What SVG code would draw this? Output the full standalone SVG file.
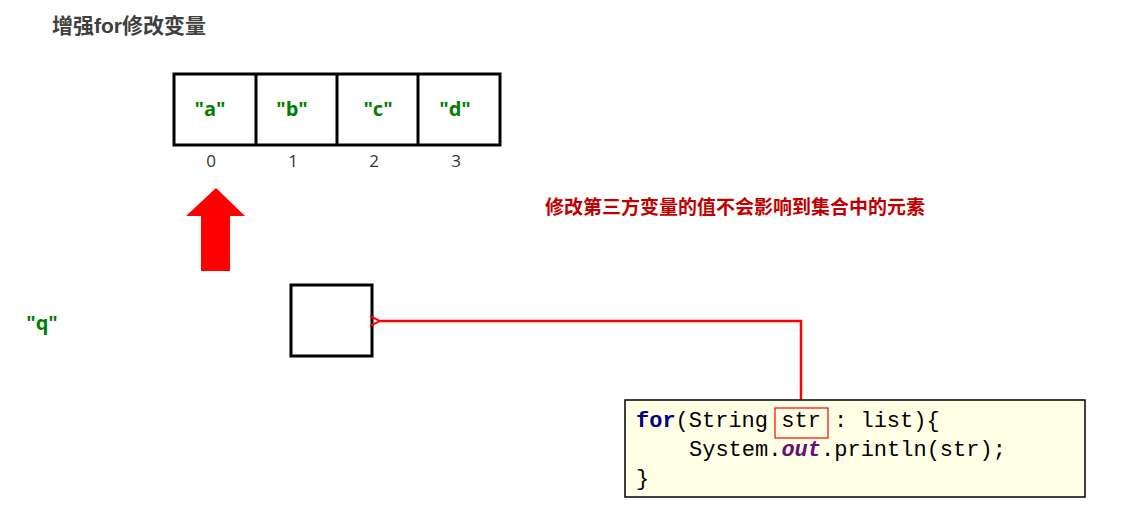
<svg xmlns="http://www.w3.org/2000/svg" width="1147" height="522" viewBox="0 0 1147 522">
<style>
.t{font-family:"Liberation Sans","Noto Sans CJK SC",sans-serif;font-weight:bold}
.g{fill:#008000;font-size:20px;font-family:"Open Sans","Liberation Sans",sans-serif;font-weight:bold;text-anchor:middle}
.n{fill:#333;font-size:17px;font-family:"Open Sans","Liberation Sans",sans-serif;text-anchor:middle}
.c{font-family:"Liberation Mono",monospace;font-size:22px;fill:#000}
.box{fill:#fff;stroke:#000;stroke-width:3}
</style>
<defs><marker id="ah" markerWidth="12" markerHeight="12" refX="1" refY="6" orient="auto" markerUnits="userSpaceOnUse"><path d="M11,1 L1,6 L11,11" fill="none" stroke="#f00" stroke-width="2"/></marker></defs>
<rect width="1147" height="522" fill="#fff"/>
<text class="t" x="52" y="33" font-size="21" fill="#404040">增强for修改变量</text>
<g id="array">
<rect class="box" x="174" y="74" width="326" height="71"/>
<line x1="256" y1="74" x2="256" y2="145" stroke="#000" stroke-width="3"/>
<line x1="337" y1="74" x2="337" y2="145" stroke="#000" stroke-width="3"/>
<line x1="418" y1="74" x2="418" y2="145" stroke="#000" stroke-width="3"/>
<text class="g" x="210" y="116">"a"</text><text class="g" x="292" y="116">"b"</text><text class="g" x="378" y="116">"c"</text><text class="g" x="455" y="116">"d"</text>
<text class="n" x="211" y="167">0</text><text class="n" x="293" y="167">1</text><text class="n" x="374" y="167">2</text><text class="n" x="456" y="167">3</text>
</g>
<g id="bigarrow"><polygon points="216,188 245,216 230,216 230,271 201,271 201,216 186,216" fill="#f00"/></g>
<text class="t" x="545" y="214" font-size="19" fill="#c00000">修改第三方变量的值不会影响到集合中的元素</text>
<text class="g" x="42" y="330">"q"</text>
<g id="var"><rect class="box" x="291" y="285" width="81" height="71"/></g>
<g id="connectors"><path d="M801,400 V321 H380" fill="none" stroke="#f00" stroke-width="2.5" marker-end="url(#ah)"/></g>
<g id="code">
<rect x="625" y="400" width="460" height="97" fill="#ffffe6" stroke="#000" stroke-width="1.5"/>
<rect x="775" y="408" width="53" height="30" fill="none" stroke="#f00" stroke-width="1.2"/>
<text class="c" x="636" y="427" xml:space="preserve"><tspan fill="#000080" font-weight="bold">for</tspan>(String str : list){</text>
<text class="c" x="689" y="456"><tspan>System.</tspan><tspan fill="#660e7a" font-weight="bold" font-style="italic">out</tspan><tspan>.println(str);</tspan></text>
<text class="c" x="636" y="485">}</text>
</g>
</svg>
